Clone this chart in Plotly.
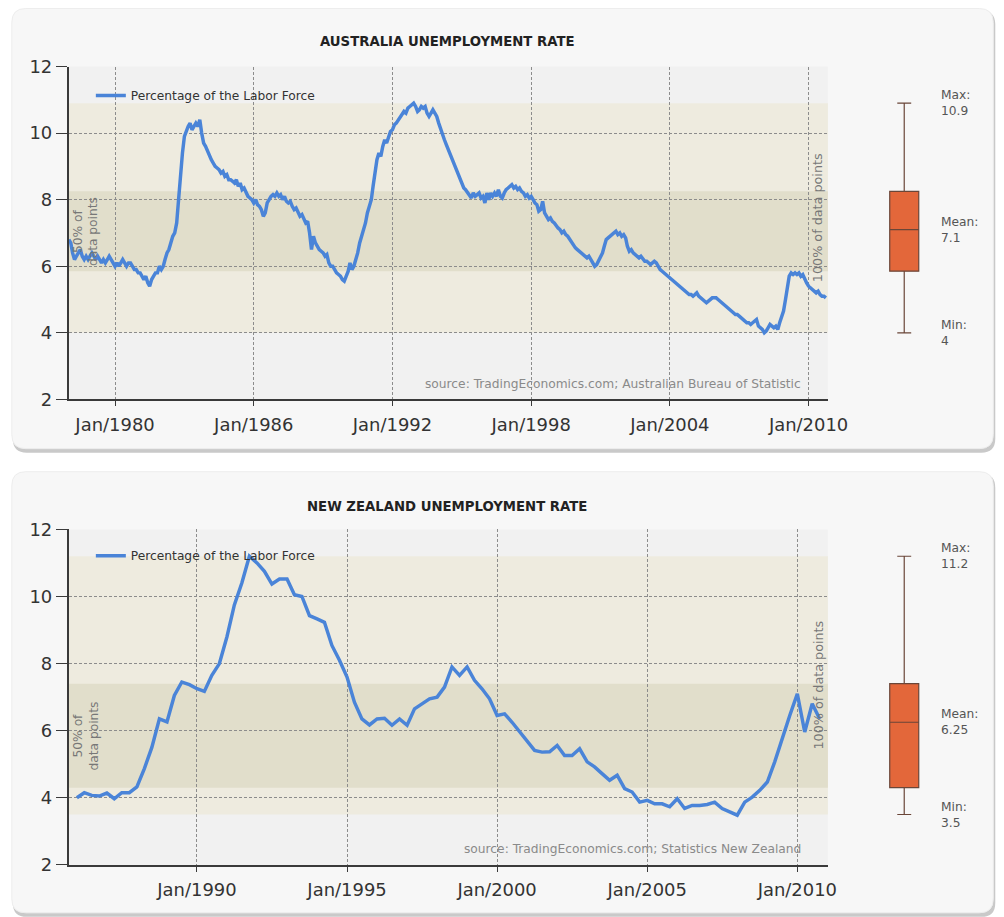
import pandas as pd
import plotly.graph_objects as go

# ---------------- data ----------------
au_title = "AUSTRALIA UNEMPLOYMENT RATE"
nz_title = "NEW ZEALAND UNEMPLOYMENT RATE"
series_name = "Percentage of the Labor Force"
au_source = "source: TradingEconomics.com; Australian Bureau of Statistic"
nz_source = "source: TradingEconomics.com; Statistics New Zealand"

# Australia, monthly, from Jan 1978
au_start = "1978-01-01"
au_rate = [
    6.8, 6.7, 6.4, 6.2, 6.3, 6.4, 6.5, 6.3, 6.2, 6.3, 6.2, 6.3,
    6.4, 6.3, 6.2, 6.3, 6.2, 6.1, 6.2, 6.1, 6.2, 6.3, 6.2, 6.1,
    6.0, 6.1, 6.0, 6.1, 6.2, 6.1, 6.0, 6.1, 6.1, 6.0, 5.9, 5.9,
    5.8, 5.8, 5.7, 5.6, 5.7, 5.5, 5.4, 5.6, 5.7, 5.8, 5.8, 6.0,
    5.9, 6.0, 6.2, 6.4, 6.5, 6.7, 6.9, 7.0, 7.3, 8.0, 8.9, 9.4,
    9.9, 10.1, 10.2, 10.3, 10.1, 10.2, 10.3, 10.2, 10.4, 10.0, 9.7, 9.6,
    9.45, 9.3, 9.2, 9.1, 9.0, 8.95, 8.9, 8.8, 8.85, 8.7, 8.75, 8.6,
    8.6, 8.55, 8.5, 8.6, 8.4, 8.5, 8.3, 8.35, 8.2, 8.1, 8.05, 8.0,
    7.9, 8.0, 7.85, 7.8, 7.7, 7.5, 7.6, 7.9, 8.0, 8.1, 8.15, 8.1,
    8.2, 8.1, 8.15, 8.0, 8.1, 7.95, 7.9, 7.95, 7.8, 7.7, 7.75, 7.6,
    7.5, 7.55, 7.4, 7.3, 7.35, 7.0, 6.5, 6.9, 6.7, 6.6, 6.5, 6.45,
    6.4, 6.3, 6.35, 6.1, 6.0, 6.0, 5.9, 5.8, 5.75, 5.7, 5.6, 5.55,
    5.7, 5.85, 6.1, 5.9, 6.0, 6.2, 6.4, 6.7, 6.9, 7.1, 7.3, 7.6,
    7.8, 8.0, 8.4, 8.8, 9.2, 9.4, 9.3, 9.6, 9.8, 9.7, 9.9, 10.05,
    10.1, 10.25, 10.3, 10.4, 10.5, 10.6, 10.65, 10.6, 10.75, 10.8, 10.85, 10.9,
    10.8, 10.65, 10.7, 10.8, 10.75, 10.8, 10.6, 10.5, 10.6, 10.7, 10.6, 10.5,
    10.3, 10.1, 10.0, 9.8, 9.65, 9.5, 9.4, 9.25, 9.1, 8.9, 8.75, 8.6,
    8.5, 8.35, 8.3, 8.2, 8.1, 8.05, 8.2, 8.1, 8.15, 8.2, 8.05, 8.1,
    7.9, 8.2, 8.0, 8.2, 8.1, 8.2, 8.1, 8.3, 8.1, 8.05, 8.2, 8.3,
    8.35, 8.4, 8.45, 8.35, 8.4, 8.3, 8.35, 8.25, 8.2, 8.1, 8.15, 8.05,
    8.1, 8.0, 7.9, 7.85, 7.65, 7.7, 7.95, 7.6, 7.5, 7.4, 7.45, 7.35,
    7.3, 7.2, 7.15, 7.1, 7.0, 7.05, 6.95, 6.9, 6.8, 6.7, 6.6, 6.55,
    6.5, 6.45, 6.4, 6.35, 6.3, 6.25, 6.3, 6.2, 6.1, 6.0, 6.05, 6.15,
    6.3, 6.4, 6.6, 6.8, 6.85, 6.9, 6.95, 7.0, 7.05, 6.95, 7.0, 6.9,
    6.95, 6.85, 6.6, 6.45, 6.5, 6.4, 6.35, 6.3, 6.25, 6.3, 6.2, 6.15,
    6.15, 6.1, 6.05, 6.1, 6.15, 6.1, 6.0, 5.9, 5.85, 5.8, 5.75, 5.7,
    5.65, 5.6, 5.55, 5.5, 5.45, 5.4, 5.35, 5.3, 5.25, 5.2, 5.15, 5.15,
    5.1, 5.15, 5.2, 5.1, 5.05, 5.0, 4.95, 4.9, 4.95, 5.0, 5.05, 5.05,
    5.05, 5.0, 4.95, 4.9, 4.85, 4.8, 4.75, 4.7, 4.65, 4.6, 4.55, 4.55,
    4.5, 4.45, 4.4, 4.35, 4.3, 4.3, 4.25, 4.3, 4.35, 4.4, 4.2, 4.15,
    4.1, 4.0, 4.05, 4.15, 4.25, 4.2, 4.15, 4.2, 4.1, 4.3, 4.45, 4.65,
    5.0, 5.45, 5.7, 5.8, 5.75, 5.8, 5.75, 5.8, 5.7, 5.75, 5.6, 5.5,
    5.4, 5.35, 5.3, 5.25, 5.2, 5.25, 5.15, 5.1, 5.1, 5.05,
]

# New Zealand, quarterly, from Jan 1986
nz_start = "1986-01-01"
nz_rate = [
    4.0, 4.15, 4.07, 4.05,
    4.14, 3.97, 4.15, 4.15,
    4.32, 4.87, 5.5, 6.35,
    6.26, 7.05, 7.45, 7.37,
    7.25, 7.17, 7.65, 8.0,
    8.8, 9.75, 10.4, 11.2,
    11.0, 10.75, 10.37, 10.52,
    10.52, 10.05, 10.0, 9.43,
    9.33, 9.23, 8.54, 8.1,
    7.6, 6.85, 6.35, 6.17,
    6.35, 6.37, 6.16, 6.35,
    6.16, 6.65, 6.8, 6.95,
    7.0, 7.3, 7.9, 7.65,
    7.9, 7.5, 7.25, 6.95,
    6.45, 6.5, 6.25, 5.96,
    5.71, 5.41, 5.36, 5.37,
    5.56, 5.26, 5.26, 5.46,
    5.07, 4.92, 4.72, 4.52,
    4.67, 4.27, 4.17, 3.87,
    3.92, 3.82, 3.82, 3.73,
    3.97, 3.68, 3.77, 3.77,
    3.8, 3.87, 3.68, 3.58,
    3.48, 3.87, 4.02, 4.22,
    4.47, 5.07, 5.8, 6.45,
    7.1, 5.96, 6.8, 6.35,
]

# box statistics: [min, q1, mean, q3, max]
au_box = [4.0, 5.85, 7.1, 8.25, 10.9]
nz_box = [3.5, 4.3, 6.25, 7.4, 11.2]
au_box_text = ["4", "7.1", "10.9"]
nz_box_text = ["3.5", "6.25", "11.2"]

au_ticks = ["1980-01-01", "1986-01-01", "1992-01-01", "1998-01-01", "2004-01-01", "2010-01-01"]
nz_ticks = ["1990-01-01", "1995-01-01", "2000-01-01", "2005-01-01", "2010-01-01"]
y_ticks = [2, 4, 6, 8, 10, 12]

# ---------------- layout helpers ----------------
# the page is photographed slightly reduced; positions are given in picture pixels
SX, SY, OX, OY = 0.98, 0.977, 0.2, 9.5
W, H = 1024, 928


def px(x):
    return ((x - OX) / SX) / W


def py(y):
    return 1 - ((y - OY) / SY) / H


def sz(v):
    return v / SX


FONT = "DejaVu Sans"
AX = "#3a3a3a"
LINE = "#4a84d8"

au_dates = pd.date_range(au_start, periods=len(au_rate), freq="MS")
nz_dates = pd.date_range(nz_start, periods=len(nz_rate), freq="QS")

fig = go.Figure()

fig.add_trace(go.Scatter(x=au_dates, y=au_rate, mode="lines", name=series_name,
                         line=dict(color=LINE, width=sz(3.4)), xaxis="x", yaxis="y",
                         legend="legend"))
fig.add_trace(go.Scatter(x=nz_dates, y=nz_rate, mode="lines", name=series_name,
                         line=dict(color=LINE, width=sz(3.4)), xaxis="x2", yaxis="y2",
                         legend="legend2"))

for stats, xa, ya in [(au_box, "x5", "y5"), (nz_box, "x6", "y6")]:
    fig.add_trace(go.Box(x=[0], lowerfence=[stats[0]], q1=[stats[1]], median=[stats[2]],
                         q3=[stats[3]], upperfence=[stats[4]], orientation="v",
                         width=0.5, whiskerwidth=0.48, fillcolor="#e3673a",
                         line=dict(color="#6a4638", width=1.2), boxpoints=False,
                         showlegend=False, hoverinfo="skip", xaxis=xa, yaxis=ya))

xdom = [px(69), px(827.7)]
top_dom = [py(397.7), py(65)]
bot_dom = [py(863), py(527.7)]

tickfont = dict(family=FONT, size=sz(17.6), color="#333")
grid = dict(showgrid=True, gridcolor="#8c8c8c", griddash="3px,2px", gridwidth=1)
common_x = dict(type="date", tickformat="%b/%Y", ticks="outside", ticklen=sz(5),
                tickcolor=AX, showline=True, linecolor=AX, linewidth=1.5,
                tickfont=tickfont, ticklabelstandoff=3, zeroline=False, **grid)
common_y = dict(range=[2, 12], tickvals=y_ticks, ticks="outside", ticklen=sz(11),
                tickcolor=AX, showline=True, linecolor=AX, linewidth=1.5,
                tickfont=tickfont, zeroline=False, **grid)
right_y = dict(range=[2, 12], tickvals=y_ticks, ticks="outside", ticklen=sz(11),
               tickcolor=AX, showline=True, linecolor=AX, linewidth=1.5,
               showgrid=False, tickfont=tickfont, zeroline=False, side="right")

au_range = [au_dates[0], au_dates[-1] + pd.Timedelta(days=32)]
nz_range = [nz_dates[0] - pd.Timedelta(days=98), nz_dates[-1] + pd.Timedelta(days=99)]

legend_font = dict(family=FONT, size=sz(12), color="#333")
fig.update_layout(
    width=W, height=H, margin=dict(l=0, r=0, t=0, b=0),
    paper_bgcolor="white", plot_bgcolor="rgba(0,0,0,0)",
    xaxis=dict(common_x, domain=xdom, anchor="y", range=au_range, tickvals=au_ticks),
    yaxis=dict(common_y, domain=top_dom, anchor="x"),
    xaxis2=dict(common_x, domain=xdom, anchor="y2", range=nz_range, tickvals=nz_ticks),
    yaxis2=dict(common_y, domain=bot_dom, anchor="x2"),
    yaxis3=dict(right_y, overlaying="y", anchor="x"),
    yaxis4=dict(right_y, overlaying="y2", anchor="x2"),
    xaxis5=dict(domain=[px(875), px(933)], anchor="y5", range=[-0.5, 0.5], visible=False),
    yaxis5=dict(domain=top_dom, anchor="x5", range=[2, 12], visible=False),
    xaxis6=dict(domain=[px(875), px(933)], anchor="y6", range=[-0.5, 0.5], visible=False),
    yaxis6=dict(domain=bot_dom, anchor="x6", range=[2, 12], visible=False),
    legend=dict(x=px(91), y=py(94), xanchor="left", yanchor="middle",
                bgcolor="rgba(0,0,0,0)", font=legend_font, itemwidth=30),
    legend2=dict(x=px(91), y=py(554), xanchor="left", yanchor="middle",
                 bgcolor="rgba(0,0,0,0)", font=legend_font, itemwidth=30),
    showlegend=True,
)


def rounded(x0, y0, x1, y1, r):
    rx, ry = sz(r) / W, sz(r) / H
    X0, X1 = px(x0), px(x1)
    Y0, Y1 = py(y0), py(y1)  # Y0 top (larger), Y1 bottom
    return (f"M{X0+rx},{Y0} L{X1-rx},{Y0} Q{X1},{Y0} {X1},{Y0-ry} "
            f"L{X1},{Y1+ry} Q{X1},{Y1} {X1-rx},{Y1} L{X0+rx},{Y1} "
            f"Q{X0},{Y1} {X0},{Y1+ry} L{X0},{Y0-ry} Q{X0},{Y0} {X0+rx},{Y0} Z")


shapes = []
for (y0, y1) in [(7, 447), (470, 911)]:
    shapes.append(dict(type="path", path=rounded(13, y0 + 2, 995, y1 + 4, 14), xref="paper",
                       yref="paper", fillcolor="#c9c9c9", line=dict(width=0), layer="below"))
    shapes.append(dict(type="path", path=rounded(12, y0, 993, y1, 14), xref="paper",
                       yref="paper", fillcolor="#f7f7f7", line=dict(color="#ededed", width=1),
                       layer="below"))

for xa, ya, stats in [("x", "y", au_box), ("x2", "y2", nz_box)]:
    shapes.append(dict(type="rect", xref=f"{xa} domain", yref=f"{ya} domain", x0=0, x1=1,
                       y0=0, y1=1, fillcolor="#f1f1f1", line=dict(width=0), layer="below"))
    shapes.append(dict(type="rect", xref=f"{xa} domain", yref=ya, x0=0, x1=1,
                       y0=stats[0], y1=stats[4], fillcolor="#eeebdf", line=dict(width=0),
                       layer="below"))
    shapes.append(dict(type="rect", xref=f"{xa} domain", yref=ya, x0=0, x1=1,
                       y0=stats[1], y1=stats[3], fillcolor="#e1decb", line=dict(width=0),
                       layer="below"))
fig.update_layout(shapes=shapes)

ann = []
for title, ty in [(au_title, 40), (nz_title, 505)]:
    ann.append(dict(text=f"<b>{title}</b>", x=px(447), y=py(ty), xref="paper", yref="paper",
                    xanchor="center", yanchor="middle", showarrow=False,
                    font=dict(family=FONT, size=sz(13), color="#222")))
for src, sy in [(au_source, 382), (nz_source, 847)]:
    ann.append(dict(text=src, x=px(803), y=py(sy), xref="paper", yref="paper",
                    xanchor="right", yanchor="middle", showarrow=False,
                    font=dict(family=FONT, size=sz(12), color="#8a8a8a")))
for ya, stats in [("y", au_box), ("y2", nz_box)]:
    ann.append(dict(text="50% of<br>data points", x=px(86), y=(stats[1] + stats[3]) / 2,
                    xref="paper", yref=ya, xanchor="center", yanchor="middle",
                    textangle=-90, showarrow=False,
                    font=dict(family=FONT, size=sz(12), color="#777")))
    ann.append(dict(text="100% of data points", x=px(818), y=(stats[0] + stats[4]) / 2,
                    xref="paper", yref=ya, xanchor="center", yanchor="middle",
                    textangle=-90, showarrow=False,
                    font=dict(family=FONT, size=sz(12.5), color="#777")))
for ya, stats, txt in [("y5", au_box, au_box_text), ("y6", nz_box, nz_box_text)]:
    for lab, val, t in [("Min:", stats[0], txt[0]), ("Mean:", stats[2], txt[1]),
                        ("Max:", stats[4], txt[2])]:
        ann.append(dict(text=f"{lab}<br>{t}", x=px(939), y=val, xref="paper", yref=ya,
                        xanchor="left", yanchor="middle", align="left", showarrow=False,
                        font=dict(family=FONT, size=sz(12), color="#555")))
fig.update_layout(annotations=ann)

fig.write_html("out.html", config={"displayModeBar": False},
               post_script="document.body.style.margin='0';"
                           "document.body.style.overflow='hidden';")
